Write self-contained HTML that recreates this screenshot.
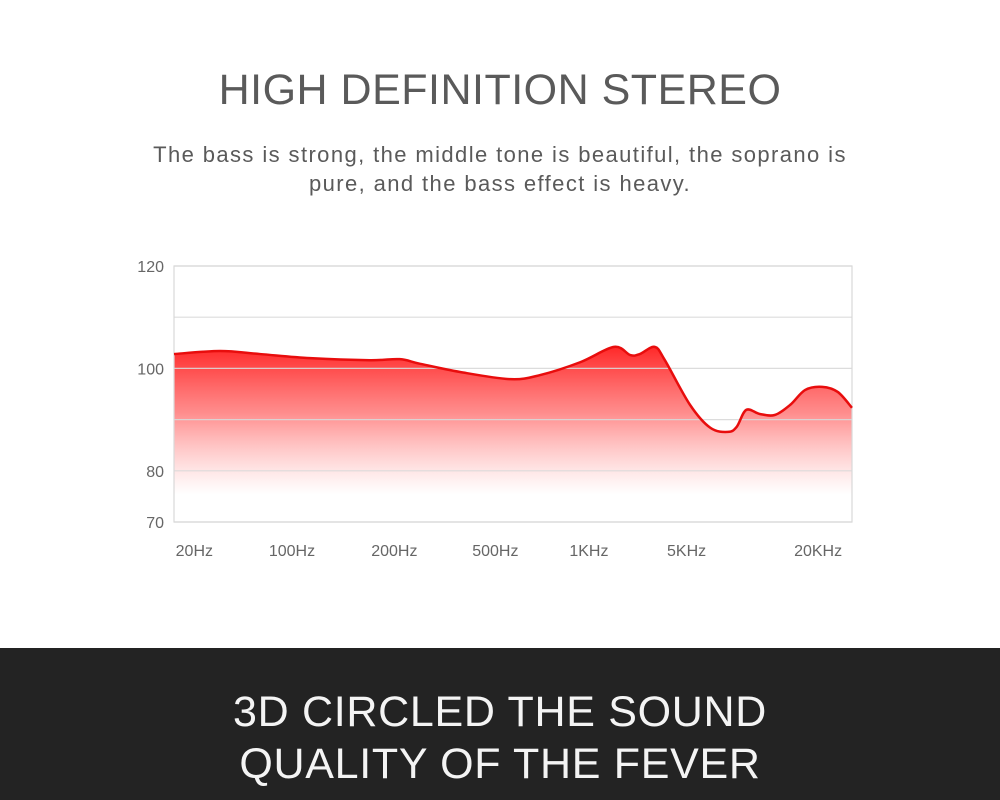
<!DOCTYPE html>
<html><head><meta charset="utf-8"><style>
body{margin:0;width:1000px;height:800px;background:#fff;font-family:"Liberation Sans",sans-serif;overflow:hidden;position:relative}
.t{position:absolute;left:0;width:1000px;text-align:center}
</style></head><body>
<div class="t" style="top:66px;font-size:43px;color:#5a5a5a;letter-spacing:0.5px">HIGH DEFINITION STEREO</div>
<div class="t" style="top:140px;font-size:22px;line-height:29px;color:#5a5a5a;letter-spacing:1.4px">The bass is strong, the middle tone is beautiful, the soprano is<br>pure, and the bass effect is heavy.</div>
<svg id="chart" width="1000" height="620" style="position:absolute;left:0;top:0">
<defs><linearGradient id="g" x1="0" y1="345" x2="0" y2="495" gradientUnits="userSpaceOnUse">
<stop offset="0" stop-color="#ff1a1a" stop-opacity="0.95"/><stop offset="0.45" stop-color="#ff4040" stop-opacity="0.6"/><stop offset="1" stop-color="#ff8080" stop-opacity="0"/></linearGradient></defs>
</svg>
<div style="position:absolute;left:0;top:648px;width:1000px;height:152px;background:#232323"></div>
<div class="t" style="top:686px;font-size:43px;line-height:52px;color:#f4f4f4;letter-spacing:0.7px">3D CIRCLED THE SOUND<br>QUALITY OF THE FEVER</div>
<script>
const xs=[0,6.8,12.7,20.1,28.9,33.3,36.3,42.2,49.6,54.0,59.9,64.9,67.3,68.7,70.9,72.4,76.1,79.1,81.7,83.0,84.4,86.4,88.6,90.9,93.1,95.6,97.9,100];
const db=[102.8,103.4,102.8,102.0,101.6,101.8,100.9,99.3,97.9,98.7,101.2,104.2,102.6,102.8,104.2,101.6,92.9,88.4,87.6,88.6,91.9,91.1,90.9,92.9,95.8,96.4,95.4,92.3];
const yTicks=[120,110,100,90,80,70];
const yLabels=["120","","100","","80","70"];
const xLabels=["20Hz","100Hz","200Hz","500Hz","1KHz","5KHz","20KHz"];
const xLabelPos=[3,17.4,32.5,47.4,61.2,75.6,95];
const svg=document.getElementById('chart');const NS='http://www.w3.org/2000/svg';
const X=v=>174+v/100*678, Y=v=>266+(120-v)*5.12;
function mk(t,a){const e=document.createElementNS(NS,t);for(const k in a)e.setAttribute(k,a[k]);svg.appendChild(e);return e;}
const pts=xs.map((x,i)=>[X(x),Y(db[i])]);
let d='M'+pts[0][0]+','+pts[0][1];
for(let i=0;i<pts.length-1;i++){const p0=pts[i-1]||pts[i],p1=pts[i],p2=pts[i+1],p3=pts[i+2]||p2;
d+=` C${p1[0]+(p2[0]-p0[0])/6},${p1[1]+(p2[1]-p0[1])/6} ${p2[0]-(p3[0]-p1[0])/6},${p2[1]-(p3[1]-p1[1])/6} ${p2[0]},${p2[1]}`;}
const area=mk('path',{d:d+` L${X(100)},${Y(70)} L${X(0)},${Y(70)} Z`,fill:'url(#g)'});


yTicks.forEach((v,i)=>{const l=mk('line',{x1:X(0),x2:X(100),y1:Y(v),y2:Y(v),stroke:'#d8d8d8','stroke-width':1.2,'stroke-opacity':0.9});


if(yLabels[i]){const t=mk('text',{x:164,y:Y(v)+6,'text-anchor':'end','font-size':16,fill:'#666'});t.textContent=yLabels[i];

}});
const b=mk('rect',{x:X(0),y:Y(120),width:678,height:Y(70)-Y(120),fill:'none',stroke:'#d8d8d8','stroke-width':1.2});


const ln=mk('path',{d:d,fill:'none',stroke:'#e80d0d','stroke-width':2.5});


xLabels.forEach((s,i)=>{const t=mk('text',{x:X(xLabelPos[i]),y:556,'text-anchor':'middle','font-size':16,fill:'#666'});t.textContent=s;

});
</script>
</body></html>
